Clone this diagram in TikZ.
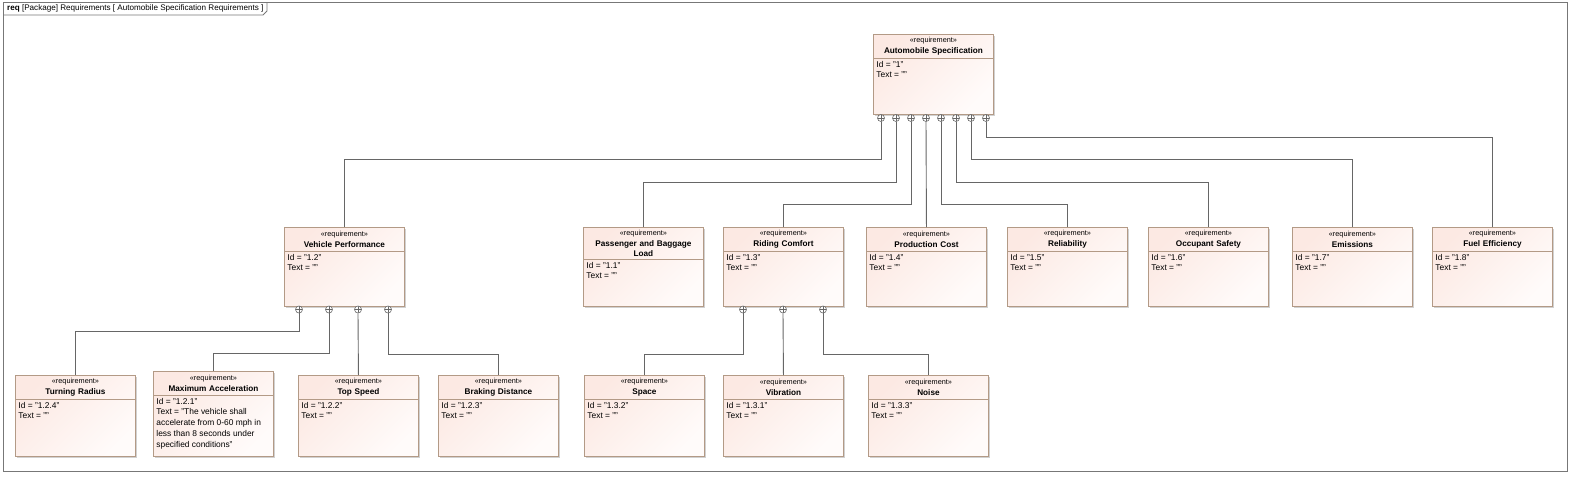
\documentclass[tikz,border=0pt]{standalone}
\usepackage{fontspec}
\setmainfont{Liberation Sans}
\usetikzlibrary{positioning,shadows}
\definecolor{reqpink}{HTML}{FCE9E3}
\definecolor{reqlight}{HTML}{FFFBFA}
\definecolor{reqedge}{HTML}{B39A86}
\definecolor{linkgray}{HTML}{666666}
\definecolor{framegray}{HTML}{777777}
\newcommand{\reqst}{{\mdseries\fontsize{7.3}{9}\selectfont «requirement»}}

\begin{document}
\begin{tikzpicture}[
  x=1pt, y=-1pt,
  reqbox/.style={rectangle, draw=reqedge, line width=0.9pt, anchor=north west,
                 minimum width=120pt, minimum height=79pt,
                 top color=reqpink, bottom color=reqlight, shading angle=45,
                 drop shadow={shadow xshift=2pt, shadow yshift=-2pt, opacity=0.3, fill=black!60}},
  reqhead/.style={anchor=north, text width=116pt, align=center, minimum height=24pt,
                  inner xsep=2pt, inner ysep=1.5pt, font=\fontsize{8.2}{11}\selectfont\bfseries},
  reqbody/.style={anchor=north west, align=left, inner xsep=3pt, inner ysep=2.5pt,
                  font=\fontsize{8.4}{10.8}\selectfont},
  divline/.style={draw=reqedge, line width=0.9pt},
  contain/.style={circle, draw=linkgray, line width=0.6pt, fill=white, minimum size=7pt, inner sep=0pt,
                  path picture={\draw[linkgray, line width=0.6pt]
                    (path picture bounding box.north) -- (path picture bounding box.south)
                    (path picture bounding box.west) -- (path picture bounding box.east);}},
  link/.style={draw=linkgray, line width=0.9pt},
  frame/.style={draw=framegray, line width=0.9pt},
]
\useasboundingbox (0,0) rectangle (1573,477);

% ---- diagram frame ----
\draw[frame] (3,2) rectangle (1567,471);
\draw[frame] (3,15) -- (263,15) -- (267,11) -- (267,2);
\node[anchor=west, inner sep=0pt, font=\fontsize{8.1}{9}\selectfont] (title) at (7,8.5)
      {\textbf{req} [Package] Requirements [ Automobile Specification Requirements ]};

% ---- root requirement ----
\node[reqbox, minimum height=80pt] (as) at (873,34) {};
\node[reqhead] (as-hd) at (as.north) {\reqst\\Automobile Specification};
\node[reqbody] (as-bd) at (as-hd.south west) {Id = "1"\\Text = ""};

% ---- first level ----
\node[reqbox] (vp) at (284,227) {};
\node[reqhead] (vp-hd) at (vp.north) {\reqst\\Vehicle Performance};
\node[reqbody] (vp-bd) at (vp-hd.south west) {Id = "1.2"\\Text = ""};

\node[reqbox] (pb) at (583,227) {};
\node[reqhead, minimum height=32pt, font=\fontsize{8.2}{10}\selectfont\bfseries] (pb-hd) at (pb.north)
      {\reqst\\[1pt]Passenger and Baggage\\Load};
\node[reqbody] (pb-bd) at (pb-hd.south west) {Id = "1.1"\\Text = ""};

\node[reqbox] (rc) at (723,227) {};
\node[reqhead] (rc-hd) at (rc.north) {\reqst\\Riding Comfort};
\node[reqbody] (rc-bd) at (rc-hd.south west) {Id = "1.3"\\Text = ""};

\node[reqbox] (pc) at (866,227) {};
\node[reqhead] (pc-hd) at (pc.north) {\reqst\\Production Cost};
\node[reqbody] (pc-bd) at (pc-hd.south west) {Id = "1.4"\\Text = ""};

\node[reqbox] (rl) at (1007,227) {};
\node[reqhead] (rl-hd) at (rl.north) {\reqst\\Reliability};
\node[reqbody] (rl-bd) at (rl-hd.south west) {Id = "1.5"\\Text = ""};

\node[reqbox] (os) at (1148,227) {};
\node[reqhead] (os-hd) at (os.north) {\reqst\\Occupant Safety};
\node[reqbody] (os-bd) at (os-hd.south west) {Id = "1.6"\\Text = ""};

\node[reqbox] (em) at (1292,227) {};
\node[reqhead] (em-hd) at (em.north) {\reqst\\Emissions};
\node[reqbody] (em-bd) at (em-hd.south west) {Id = "1.7"\\Text = ""};

\node[reqbox] (fe) at (1432,227) {};
\node[reqhead] (fe-hd) at (fe.north) {\reqst\\Fuel Efficiency};
\node[reqbody] (fe-bd) at (fe-hd.south west) {Id = "1.8"\\Text = ""};

% ---- second level ----
\node[reqbox, minimum height=81pt] (tr) at (15,375) {};
\node[reqhead] (tr-hd) at (tr.north) {\reqst\\Turning Radius};
\node[reqbody] (tr-bd) at (tr-hd.south west) {Id = "1.2.4"\\Text = ""};

\node[reqbox, minimum height=85pt] (ma) at (153,371) {};
\node[reqhead] (ma-hd) at (ma.north) {\reqst\\Maximum Acceleration};
\node[reqbody] (ma-bd) at (ma-hd.south west)
      {Id = "1.2.1"\\Text = "The vehicle shall\\accelerate from 0-60 mph in\\less than 8 seconds under\\specified conditions"};

\node[reqbox, minimum height=81pt] (ts) at (298,375) {};
\node[reqhead] (ts-hd) at (ts.north) {\reqst\\Top Speed};
\node[reqbody] (ts-bd) at (ts-hd.south west) {Id = "1.2.2"\\Text = ""};

\node[reqbox, minimum height=81pt] (bd) at (438,375) {};
\node[reqhead] (bd-hd) at (bd.north) {\reqst\\Braking Distance};
\node[reqbody] (bd-bd) at (bd-hd.south west) {Id = "1.2.3"\\Text = ""};

\node[reqbox, minimum height=81pt] (sp) at (584,375) {};
\node[reqhead] (sp-hd) at (sp.north) {\reqst\\Space};
\node[reqbody] (sp-bd) at (sp-hd.south west) {Id = "1.3.2"\\Text = ""};

\node[reqbox, minimum height=81pt] (vb) at (723,375) {};
\node[reqhead] (vb-hd) at (vb.north) {\reqst\\Vibration};
\node[reqbody] (vb-bd) at (vb-hd.south west) {Id = "1.3.1"\\Text = ""};

\node[reqbox, minimum height=81pt] (ns) at (868,375) {};
\node[reqhead] (ns-hd) at (ns.north) {\reqst\\Noise};
\node[reqbody] (ns-bd) at (ns-hd.south west) {Id = "1.3.3"\\Text = ""};

% ---- compartment lines ----
\foreach \b in {as,vp,pb,rc,pc,rl,os,em,fe,tr,ma,ts,bd,sp,vb,ns}
  \draw[divline] (\b-hd.south west) -- (\b-hd.south east);

% ---- containment ends ----
\foreach \k in {1,...,8}
  \node[contain] (as-c\k) at ({866+15*\k},118) {};
\foreach \k/\x in {1/299,2/329,3/358,4/388}
  \node[contain] (vp-c\k) at (\x,309.5) {};
\foreach \k/\x in {1/743,2/783,3/823}
  \node[contain] (rc-c\k) at (\x,309.5) {};

% ---- containment links (parent end -> child top) ----
\foreach \p/\c/\y in {as-c1/vp/159, as-c2/pb/182, as-c3/rc/204, as-c5/rl/204,
                      as-c6/os/182, as-c7/em/159, as-c8/fe/137,
                      vp-c1/tr/331, vp-c2/ma/353, vp-c4/bd/354,
                      rc-c1/sp/354, rc-c3/ns/354}
  \draw[link] (\p.south) -- (\p.south |- 0,\y) -| (\c.north);
\draw[link] (as-c4.south) -- (pc.north);
\draw[link] (vp-c3.south) -- (ts.north);
\draw[link] (rc-c2.south) -- (vb.north);
\end{tikzpicture}
\end{document}
